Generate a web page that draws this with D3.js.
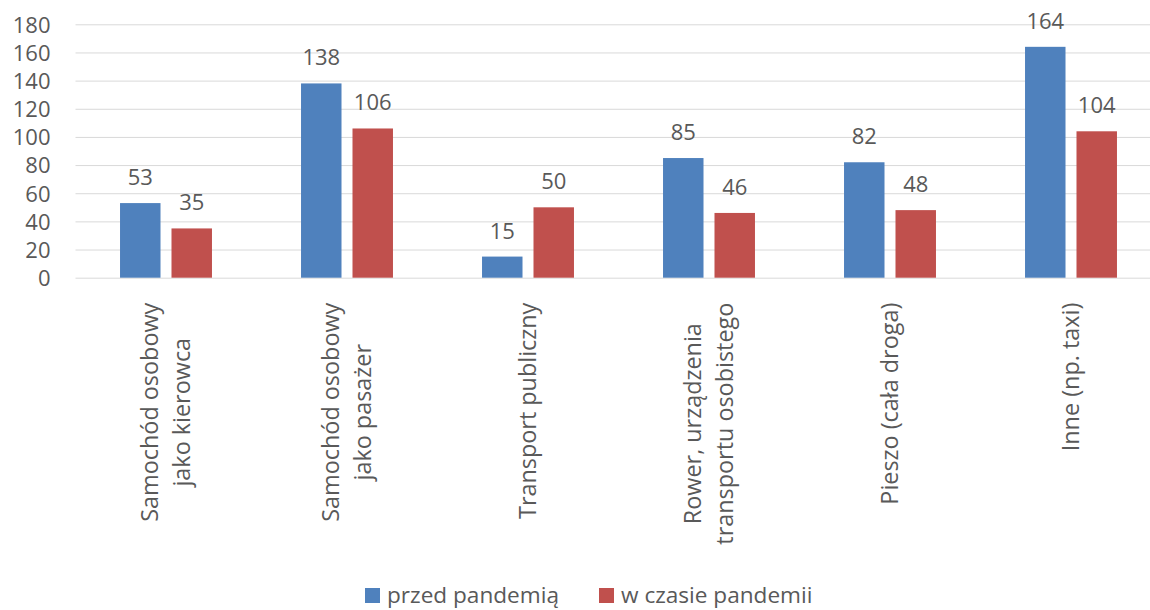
<!DOCTYPE html>
<html lang="pl">

<head>
  <meta charset="utf-8">
  <title>Pandemia - środki transportu</title>
  <script src="https://cdn.jsdelivr.net/npm/d3@7"></script>
  <style>
    body { margin: 0; background: #fff; }
    text { font-family: "Open Sans", sans-serif; fill: #595959; }
  </style>
</head>

<body>
  <script>
    // data
    var categories = [
      ["Samochód osobowy", "jako kierowca"],
      ["Samochód osobowy", "jako pasażer"],
      ["Transport publiczny"],
      ["Rower, urządzenia", "transportu osobistego"],
      ["Pieszo (cała droga)"],
      ["Inne (np. taxi)"]
    ];
    var seriesNames = ["przed pandemią", "w czasie pandemii"];
    var przed = [53, 138, 15, 85, 82, 164];
    var wCzasie = [35, 106, 50, 46, 48, 104];
    var yTicks = [0, 20, 40, 60, 80, 100, 120, 140, 160, 180];
    var colors = ["#4F81BD", "#C0504D"];

    var w = 1150;
    var h = 610;
    var margin = { top: 24.3, left: 75.5, right: -11.5, bottom: 332.3 };
    var width = w - margin.left - margin.right;
    var height = h - margin.top - margin.bottom;

    var svg = d3.select("body").append("svg")
                .attr("width", w)
                .attr("height", h);
    var chart = svg.append("g")
                   .attr("transform", "translate(" + margin.left + "," + margin.top + ")");

    var keys = categories.map(function (c) { return c.join(" "); });
    var rows = keys.map(function (k, i) {
      return { key: k, lines: categories[i], values: [przed[i], wCzasie[i]] };
    });

    var x0 = d3.scaleBand()
               .domain(keys)
               .range([0, width])
               .paddingInner(0.492)
               .paddingOuter(0.246);
    var x1 = d3.scaleBand()
               .domain([0, 1])
               .range([0, x0.bandwidth()])
               .paddingInner(0.2136);
    var y = d3.scaleLinear()
              .domain([0, 180])
              .range([height, 0]);

    // gridlines
    var yGrid = d3.axisLeft(y)
                  .tickValues(yTicks)
                  .tickSize(-width)
                  .tickFormat("");
    chart.append("g")
         .attr("class", "grid")
         .call(yGrid)
         .call(function (g) {
           g.select(".domain").remove();
           g.selectAll("line").attr("stroke", "#D9D9D9").attr("stroke-width", 1);
         });

    // y tick labels
    var yAxis = d3.axisLeft(y)
                  .tickValues(yTicks)
                  .tickSize(0)
                  .tickPadding(25);
    chart.append("g")
         .call(yAxis)
         .call(function (g) {
           g.select(".domain").remove();
           g.selectAll("text")
            .attr("font-size", 22)
            .attr("font-family", "Open Sans, sans-serif")
            .attr("fill", "#595959")
            .attr("dy", "0.36em");
         });

    // bars
    var groups = chart.selectAll(".cat")
                      .data(rows)
                      .enter()
                      .append("g")
                      .attr("class", "cat")
                      .attr("transform", function (d) {
                        return "translate(" + x0(d.key) + ",0)";
                      });
    var bars = groups.selectAll(".bar")
                     .data(function (d) {
                       return d.values.map(function (v, i) { return { s: i, v: v }; });
                     })
                     .enter();
    bars.append("rect")
        .attr("class", "bar")
        .attr("x", function (d) { return x1(d.s); })
        .attr("width", x1.bandwidth())
        .attr("y", function (d) { return y(d.v); })
        .attr("height", function (d) { return height - y(d.v); })
        .attr("fill", function (d) { return colors[d.s]; });
    bars.append("text")
        .attr("x", function (d) { return x1(d.s) + x1.bandwidth() / 2; })
        .attr("y", function (d) { return y(d.v) - 18; })
        .attr("text-anchor", "middle")
        .attr("font-size", 22)
        .text(function (d) { return d.v; });

    // category labels, rotated
    var lineGap = 32;
    var labels = chart.selectAll(".catlabel")
                      .data(rows)
                      .enter()
                      .append("g")
                      .attr("class", "catlabel")
                      .attr("transform", function (d) {
                        return "translate(" + (x0(d.key) + x0.bandwidth() / 2) + "," + (height + 25) + ") rotate(-90)";
                      });
    labels.each(function (d) {
      var g = d3.select(this);
      var n = d.lines.length;
      var texts = g.selectAll("text")
                   .data(d.lines)
                   .enter()
                   .append("text")
                   .attr("font-size", 23.4)
                   .attr("text-anchor", "middle")
                   .attr("y", function (l, i) { return (i - (n - 1) / 2) * lineGap + 8; })
                   .text(function (l) { return l; });
      var maxLen = 0;
      texts.each(function () { maxLen = Math.max(maxLen, this.getComputedTextLength()); });
      texts.attr("x", -maxLen / 2);
    });

    // legend
    var legend = svg.append("g").attr("transform", "translate(365,588)");
    var legendX = [0, 234];
    seriesNames.forEach(function (name, i) {
      var item = legend.append("g").attr("transform", "translate(" + legendX[i] + ",0)");
      item.append("rect")
          .attr("width", 15)
          .attr("height", 15)
          .attr("fill", colors[i]);
      item.append("text")
          .attr("x", 22)
          .attr("y", 15)
          .attr("font-size", 22.6)
          .text(name);
    });
  </script>
</body>

</html>
